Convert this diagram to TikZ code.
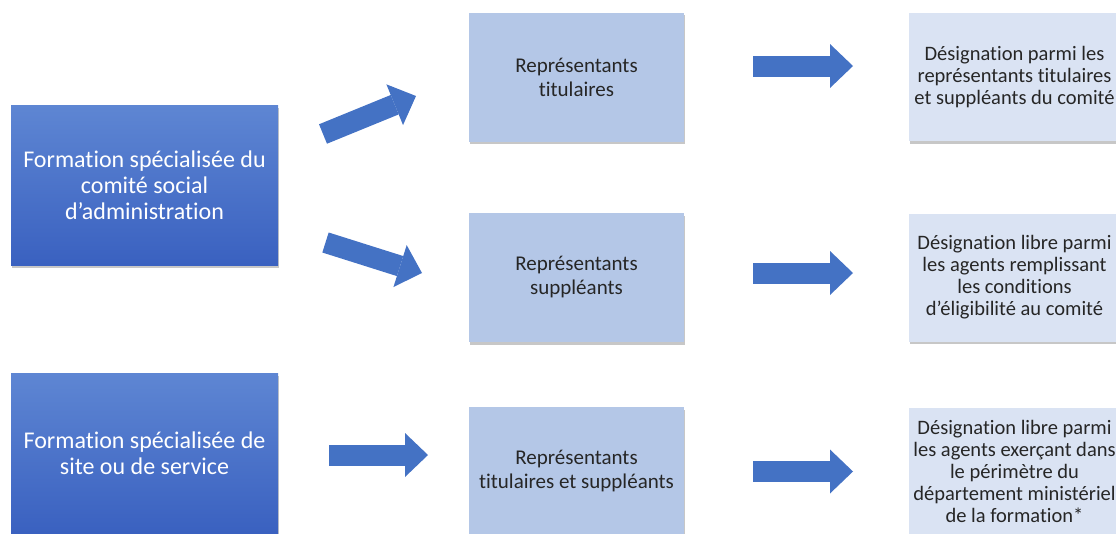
\documentclass[tikz,border=0pt]{standalone}
\usepackage{fontspec}
\setmainfont{Carlito}[Ligatures=CommonOff]
\usepackage{xcolor}
\usepackage{tikz}
\usetikzlibrary {positioning}
\usetikzlibrary{arrows.meta}
\usetikzlibrary{shadows}
\definecolor{accentblue}{HTML}{4472C4}
\definecolor{darktop}{HTML}{5E86D3}
\definecolor{darkbottom}{HTML}{3A61C0}
\definecolor{midfill}{HTML}{B4C7E7}
\definecolor{lightfill}{HTML}{DAE3F3}
\definecolor{boxtext}{HTML}{262626}
\tikzset{bigarrow/.style = {draw=accentblue, line width=21pt, -{Triangle[width=44pt,length=23pt,line width=0pt]}}}
\tikzset{box shadow/.style = {drop shadow={shadow xshift=1pt, shadow yshift=-2.5pt, opacity=0.22, fill=black}}}

\begin{document}
\begin{tikzpicture}[x=1pt,y=-1pt,node distance=438pt,
    form node/.style={rectangle,box shadow,top color=darktop,bottom color=darkbottom,text=white,
        minimum width=267pt,minimum height=160pt,align=center,font=\fontsize{24}{26}\selectfont},
    rep node/.style={rectangle,box shadow,fill=midfill,text=boxtext,
        minimum width=215pt,minimum height=129pt,align=center,font=\fontsize{21}{24}\selectfont},
    desig node/.style={rectangle,box shadow,fill=lightfill,text=boxtext,inner sep=0pt,
        minimum width=211pt,minimum height=128pt,align=center,font=\fontsize{20.5}{22}\selectfont}]
                \clip (0,0) rectangle (1116,533);
                \useasboundingbox (0,0) rectangle (1116,533);

                % left column
                \node[form node] (A) at (144.5,185) {Formation spécialisée du\\comité social\\d’administration};
                \node[form node] (B) at (144.5,453) {Formation spécialisée de\\site ou de service};

                % middle column
                \node[rep node] (m1) at (576.5,77) {Représentants\\titulaires};
                \node[rep node] (m2) at (576.5,277.5) {Représentants\\suppléants};
                \node[rep node] (m3) at (576.5,471.5) {Représentants\\titulaires et suppléants};

                % right column
                \node[desig node] (r1) [right of=m1] {Désignation parmi les\\représentants titulaires\\et suppléants du comité};
                \node[desig node] (r2) [right of=m2] {Désignation libre parmi\\les agents remplissant\\les conditions\\d’éligibilité au comité};
                \node[desig node] (r3) [right of=m3] {Désignation libre parmi\\les agents exerçant dans\\le périmètre du\\département ministériel\\de la formation*};

                % arrow ends
                \coordinate (a1) at (323,134);
                \coordinate (a2) at (416,96);
                \coordinate (b1) at (325.5,242.5);
                \coordinate (b2) at (422,273);
                \coordinate (c1) at (329,455);
                \coordinate (c2) at (428,455);
                \coordinate (d1) at (753,66);
                \coordinate (d2) at (853,66);
                \coordinate (e1) at (753,273);
                \coordinate (e2) at (853,273);
                \coordinate (f1) at (753,471.5);
                \coordinate (f2) at (853,471.5);

                \draw[bigarrow] (a1) -- (a2);
                \draw[bigarrow] (b1) -- (b2);
                \draw[bigarrow] (c1) -- (c2);
                \draw[bigarrow] (d1) -- (d2);
                \draw[bigarrow] (e1) -- (e2);
                \draw[bigarrow] (f1) -- (f2);
            \end{tikzpicture}
\end{document}
